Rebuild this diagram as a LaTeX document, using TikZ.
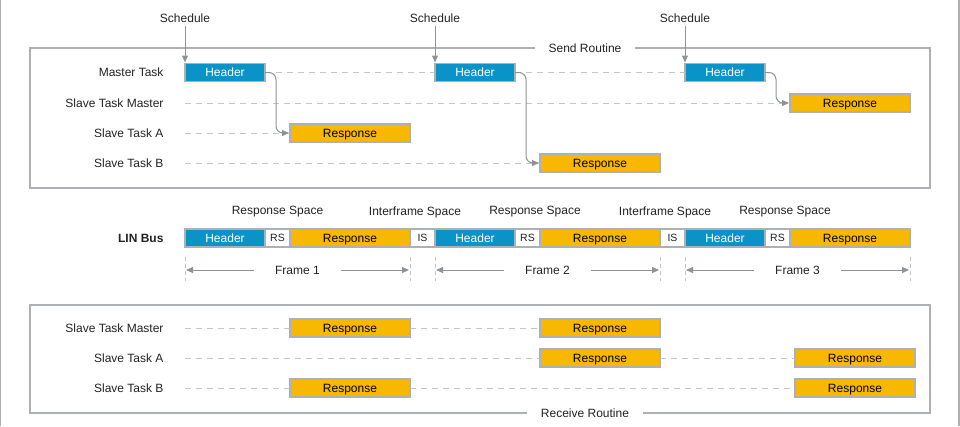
\documentclass[tikz,border=0pt]{standalone}
\usepackage{fontspec}
\setmainfont{Liberation Sans}
\usepackage{xcolor}
\usepackage{tikz}
\usetikzlibrary{positioning}
\usetikzlibrary{arrows.meta}
\definecolor{azul}{HTML}{0A93C6}
\definecolor{amarillo}{HTML}{F9B800}
\definecolor{borde}{HTML}{AEB1B4}
\definecolor{guiongris}{HTML}{C3C5C7}
\definecolor{flechagris}{HTML}{8E9398}
\definecolor{texto}{HTML}{222222}

\begin{document}
\begin{tikzpicture}[x=1pt,y=-1pt]
\tikzset{
    campo/.style={rectangle, draw=borde, line width=1.1pt, minimum height=18pt,
                  inner sep=0pt, outer sep=0pt, text centered, text height=8.6pt, text depth=0pt,
                  font={\fontsize{12}{14}\selectfont}},
    hdr/.style={campo, fill=azul, text=white, minimum width=80pt},
    resp/.style={campo, fill=amarillo, text=black, minimum width=120pt},
    hueco/.style={campo, fill=white, text=texto, minimum width=25pt, text height=7.5pt,
                  font={\fontsize{10.5}{12}\selectfont}},
    tarea/.style={anchor=east, text=texto, font={\fontsize{12}{14}\selectfont}},
    etiqueta/.style={text=texto, inner sep=1pt, font={\fontsize{12}{14}\selectfont}},
    titulo/.style={fill=white, text=texto, inner xsep=14pt, font={\fontsize{12}{14}\selectfont}},
    marco/.style={draw=borde, line width=1.1pt},
    guion/.style={draw=guiongris, line width=1pt, dash pattern=on 6pt off 5pt},
    marca/.style={draw=guiongris, line width=0.8pt, dash pattern=on 4pt off 3pt},
    flecha/.style={draw=flechagris, line width=1pt, -{Triangle[length=7pt,width=6pt]}, shorten >=1pt}
}
\useasboundingbox (0,0) rectangle (960,426);
\draw[marco] (0.5,0) -- (0.5,426);
\draw[marco] (959,0) -- (959,426);

% Send Routine
\draw[marco] (30,48) rectangle (930,188);
\node[titulo] (send) at (585,48) {Send Routine};

\node[tarea] (lmt) at (167,72.5) {Master Task};
\node[tarea] (lstm) at (167,103) {Slave Task Master};
\node[tarea] (lsta) at (167,133) {Slave Task A};
\node[tarea] (lstb) at (167,163) {Slave Task B};

\node[hdr] (h1) at (225,72.5) {Header};
\node[hdr] (h2) at (475,72.5) {Header};
\node[hdr] (h3) at (725,72.5) {Header};
\node[resp] (rm) at (850,103) {Response};
\node[resp] (ra) at (350,133) {Response};
\node[resp] (rb) at (600,163) {Response};

\node[etiqueta] (s1) at (185,18) {Schedule};
\node[etiqueta] (s2) at (435,18) {Schedule};
\node[etiqueta] (s3) at (685,18) {Schedule};
\draw[flecha] (s1.south) ++(0,2) -- (h1.north west);
\draw[flecha] (s2.south) ++(0,2) -- (h2.north west);
\draw[flecha] (s3.south) ++(0,2) -- (h3.north west);

\coordinate (cm) at (185,103);
\coordinate (ca) at (185,133);
\coordinate (cb) at (185,163);
\draw[guion] (h1.east) -- (h2.west);
\draw[guion] (h2.east) -- (h3.west);
\draw[guion] (cm) -- (rm.west);
\draw[guion] (ca) -- (ra.west);
\draw[guion] (cb) -- (rb.west);
\draw[flecha, rounded corners=7pt] (h1.east) -- ++(11,0) |- (ra.west);
\draw[flecha, rounded corners=7pt] (h2.east) -- ++(11,0) |- (rb.west);
\draw[flecha, rounded corners=7pt] (h3.east) -- ++(11,0) |- (rm.west);

% LIN Bus
\node[tarea, font={\fontsize{12}{14}\selectfont\bfseries}] (lbus) at (167,238) {LIN Bus};
\node[hdr] (b1) at (225,238) {Header};
\node[hueco, right=0pt of b1] (rs1) {RS};
\node[resp, right=0pt of rs1] (br1) {Response};
\node[hueco, right=0pt of br1] (is1) {IS};
\node[hdr, right=0pt of is1] (b2) {Header};
\node[hueco, right=0pt of b2] (rs2) {RS};
\node[resp, right=0pt of rs2] (br2) {Response};
\node[hueco, right=0pt of br2] (is2) {IS};
\node[hdr, right=0pt of is2] (b3) {Header};
\node[hueco, right=0pt of b3] (rs3) {RS};
\node[resp, right=0pt of rs3] (br3) {Response};

\node[etiqueta] (e1) at (277.5,212) {Response Space};
\node[etiqueta] (e2) at (415,212) {Interframe Space};
\node[etiqueta] (e3) at (535,212) {Response Space};
\node[etiqueta] (e4) at (665,212) {Interframe Space};
\node[etiqueta] (e5) at (785,212) {Response Space};

\foreach \n in {b1.south west, br1.south east, b2.south west, br2.south east, b3.south west, br3.south east}
    \draw[marca] (\n) ++(0,10) -- ++(0,24);

\node[etiqueta] (f1) at (297.5,270) {Frame 1};
\node[etiqueta] (f2) at (547.5,270) {Frame 2};
\node[etiqueta] (f3) at (797.5,270) {Frame 3};
\draw[flecha] ([xshift=-20pt]f1.west) -- (b1.west |- f1);
\draw[flecha] ([xshift=20pt]f1.east) -- (br1.east |- f1);
\draw[flecha] ([xshift=-20pt]f2.west) -- (b2.west |- f2);
\draw[flecha] ([xshift=20pt]f2.east) -- (br2.east |- f2);
\draw[flecha] ([xshift=-20pt]f3.west) -- (b3.west |- f3);
\draw[flecha] ([xshift=20pt]f3.east) -- (br3.east |- f3);

% Receive Routine
\draw[marco] (30,305) rectangle (930,413);
\node[titulo] (recv) at (585,413) {Receive Routine};

\node[tarea] (rlstm) at (167,328) {Slave Task Master};
\node[tarea] (rlsta) at (167,358) {Slave Task A};
\node[tarea] (rlstb) at (167,388) {Slave Task B};

\node[resp] (rm1) at (350,328) {Response};
\node[resp] (rm2) at (600,328) {Response};
\node[resp] (ra1) at (600,358) {Response};
\node[resp] (ra2) at (855,358) {Response};
\node[resp] (rb1) at (350,388) {Response};
\node[resp] (rb2) at (855,388) {Response};

\coordinate (dm) at (185,328);
\coordinate (da) at (185,358);
\coordinate (db) at (185,388);
\draw[guion] (dm) -- (rm1.west);
\draw[guion] (rm1.east) -- (rm2.west);
\draw[guion] (da) -- (ra1.west);
\draw[guion] (ra1.east) -- (ra2.west);
\draw[guion] (db) -- (rb1.west);
\draw[guion] (rb1.east) -- (rb2.west);

\end{tikzpicture}
\end{document}
